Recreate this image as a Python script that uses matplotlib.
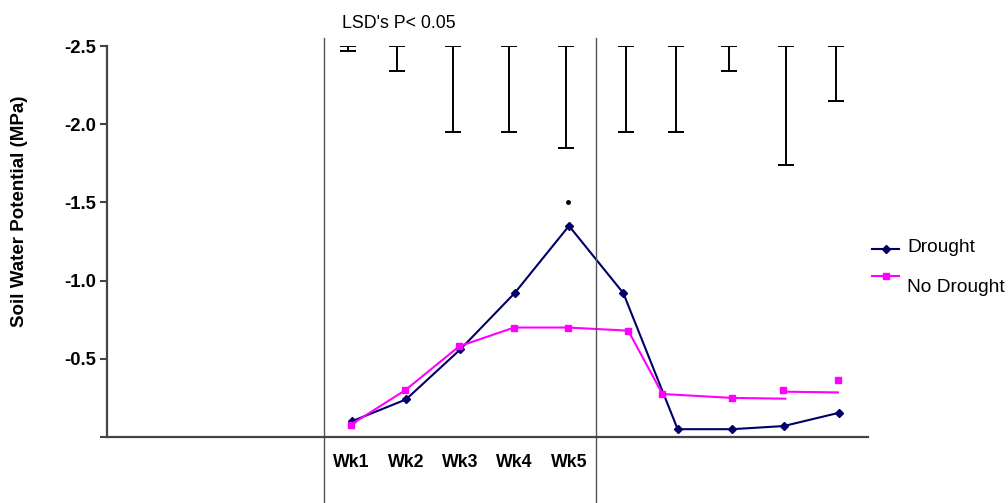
import numpy as np
import matplotlib
matplotlib.use("Agg")
import matplotlib.pyplot as plt
from matplotlib.lines import Line2D

plt.rcParams['font.family'] = ['Liberation Sans', 'DejaVu Sans']

# Dados (MPa, negativos)
wk_labels = ['Wk1', 'Wk2', 'Wk3', 'Wk4', 'Wk5']
wk_pos = [1, 2, 3, 4, 5]

drought_x = [1, 2, 3, 4, 5, 6, 7, 8, 8.95, 9.97]
drought_y = [-0.10, -0.24, -0.56, -0.92, -1.35, -0.92, -0.05, -0.05, -0.07, -0.155]

# No Drought: marcadores
nodrought_x = [0.98, 1.99, 2.98, 3.99, 4.98, 6.09, 6.72, 8.0, 8.94, 9.95]
nodrought_y = [-0.077, -0.30, -0.58, -0.70, -0.70, -0.68, -0.275, -0.25, -0.30, -0.365]
# No Drought: linhas (desenhadas em dois trechos no original)
nd_line1_x = [0.98, 1.99, 2.98, 3.99, 4.98, 6.09, 6.72, 8.0, 8.98]
nd_line1_y = [-0.077, -0.30, -0.58, -0.70, -0.70, -0.68, -0.275, -0.25, -0.245]
nd_line2_x = [8.94, 9.95]
nd_line2_y = [-0.29, -0.285]

# LSD's P<0.05
lsd_x = [0.94, 1.83, 2.87, 3.90, 4.95, 6.04, 6.97, 7.94, 8.99, 9.91]
lsd_len = [0.03, 0.16, 0.55, 0.55, 0.65, 0.55, 0.55, 0.16, 0.76, 0.35]
lsd_top = -2.5

signif_x = [4.98]
signif_y = [-1.5]

fig = plt.figure(figsize=(10.08, 5.03), dpi=100)
ax = fig.add_axes([0.1062, 0.1312, 0.861 - 0.1062, 0.9085 - 0.1312])

ax.plot(drought_x, drought_y, color='#000066', lw=1.5, marker='D', ms=4.5)
ax.plot(nd_line1_x, nd_line1_y, color='#ff00ff', lw=1.5)
ax.plot(nd_line2_x, nd_line2_y, color='#ff00ff', lw=1.5)
ax.plot(nodrought_x, nodrought_y, color='#ff00ff', ls='none', marker='s', ms=4.5)

lsd_y = np.full(len(lsd_x), lsd_top)
ax.errorbar(lsd_x, lsd_y, yerr=[np.zeros(len(lsd_len)), lsd_len], fmt='none',
            ecolor='black', elinewidth=1.4, capsize=5.5, capthick=1.4)

ax.plot(signif_x, signif_y, 'o', color='black', ms=2.5)

ax.set_xlim(-3.5, 10.5)
ax.set_ylim(0, -2.5)

# linhas verticais separando os períodos
y0, y1 = 0.1312, 0.9085
ymin = (0 - y0) / (y1 - y0)
ymax = (1 - 38 / 503 - y0) / (y1 - y0)
for xv in [0.5, 5.5]:
    ax.axvline(xv, ymin=ymin, ymax=ymax, color='#555555', lw=1.0, clip_on=False)

ax.set_xticks(wk_pos)
ax.set_xticklabels(wk_labels, fontsize=12.8, fontweight='bold')
ax.tick_params(axis='x', length=0, pad=12)

ax.set_yticks([-2.5, -2.0, -1.5, -1.0, -0.5, 0])
ax.set_yticklabels(['-2.5', '-2.0', '-1.5', '-1.0', '-0.5', ''], fontsize=13.3, fontweight='bold')
ax.tick_params(axis='y', length=5, width=1.5, color='#444444', pad=3)

for s in ['top', 'right']:
    ax.spines[s].set_visible(False)
for s in ['left', 'bottom']:
    ax.spines[s].set_color('#444444')
    ax.spines[s].set_linewidth(1.6)

fig.text(20 / 1008, 1 - 211 / 503, 'Soil Water Potential (MPa)', rotation=90,
         ha='center', va='center', fontsize=13.5, fontweight='bold')

fig.text(342 / 1008, 1 - 23 / 503, "LSD's P< 0.05", ha='left', va='center', fontsize=12.8)

# legenda
fig.add_artist(Line2D([872 / 1008, 899 / 1008], [1 - 249 / 503] * 2, color='#000066',
                      lw=1.5, transform=fig.transFigure))
fig.add_artist(Line2D([885.5 / 1008], [1 - 249 / 503], color='#000066', ls='none',
                      marker='D', ms=4.5, transform=fig.transFigure))
fig.add_artist(Line2D([872 / 1008, 899 / 1008], [1 - 276 / 503] * 2, color='#ff00ff',
                      lw=1.5, transform=fig.transFigure))
fig.add_artist(Line2D([885.5 / 1008], [1 - 276 / 503], color='#ff00ff', ls='none',
                      marker='s', ms=4.5, transform=fig.transFigure))
fig.text(907 / 1008, 1 - 248 / 503, 'Drought', ha='left', va='center', fontsize=13.8)
fig.text(907 / 1008, 1 - 287 / 503, 'No Drought', ha='left', va='center', fontsize=13.8)

fig.savefig('out.png', dpi=100)
